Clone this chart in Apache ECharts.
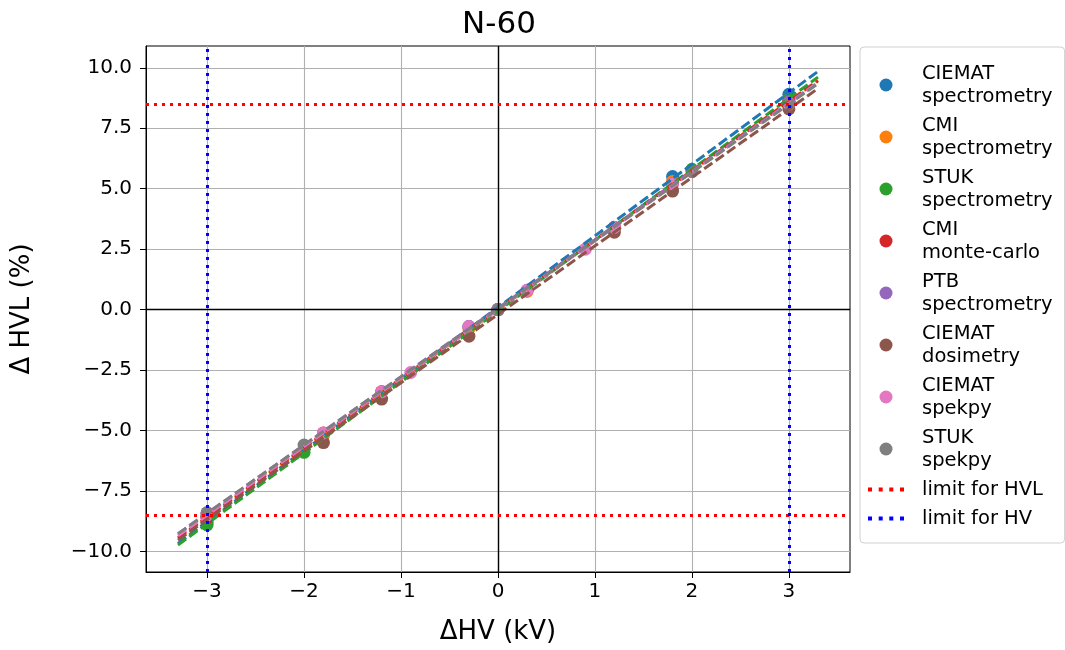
<!DOCTYPE html>
<html>
<head>
<meta charset="utf-8">
<title>N-60</title>
<script src="https://cdn.jsdelivr.net/npm/echarts@6/dist/echarts.min.js"></script>
<style>
  html, body { margin: 0; padding: 0; background: #fff; }
  #chart { width: 1065px; height: 650px; }
</style>
</head>
<body>
<div id="chart"></div>
<script>
// Change of half-value layer against change of tube voltage, beam quality N-60.
const seriesNames = [
  'CIEMAT\nspectrometry', 'CMI\nspectrometry', 'STUK\nspectrometry', 'CMI\nmonte-carlo',
  'PTB\nspectrometry', 'CIEMAT\ndosimetry', 'CIEMAT\nspekpy', 'STUK\nspekpy'
];
const seriesColors = ['#1f77b4', '#ff7f0e', '#2ca02c', '#d62728', '#9467bd', '#8c564b', '#e377c2', '#7f7f7f'];

// ΔHV (kV) and ΔHVL (%) per data set
const ciematSpectrometryX = [-3, -0.3, 0, 1.8, 3];
const ciematSpectrometryY = [-8.8, -0.7, 0, 5.5, 8.9];
const cmiSpectrometryX = [-3, -1.8, -1.2, -0.3, 0, 0.3, 1.2, 1.8, 3];
const cmiSpectrometryY = [-8.6, -5.2, -3.4, -0.8, 0, 0.75, 3.4, 5.3, 8.6];
const stukSpectrometryX = [-3, -2, 0, 2, 3];
const stukSpectrometryY = [-8.9, -5.9, 0, 5.8, 8.7];
const cmiMonteCarloX = [-3, -1.8, -1.2, 0, 1.2, 1.8, 3];
const cmiMonteCarloY = [-8.6, -5.1, -3.4, 0, 3.4, 5.2, 8.6];
const ptbSpectrometryX = [-3, -0.3, 0, 0.3, 3];
const ptbSpectrometryY = [-8.4, -0.7, 0, 0.8, 8.6];
const ciematDosimetryX = [-3, -1.8, -1.2, -0.3, 0, 1.2, 1.8, 3];
const ciematDosimetryY = [-8.5, -5.5, -3.7, -1.1, 0, 3.2, 4.9, 8.3];
const ciematSpekpyX = [-3, -1.8, -1.2, -0.9, -0.3, 0, 0.3, 0.9, 1.2, 1.8, 3];
const ciematSpekpyY = [-8.5, -5.1, -3.4, -2.6, -0.7, 0, 0.8, 2.5, 3.4, 5.2, 8.5];
const stukSpekpyX = [-3, -2, 0, 2, 3];
const stukSpekpyY = [-8.4, -5.6, 0, 5.7, 8.5];

const seriesX = [ciematSpectrometryX, cmiSpectrometryX, stukSpectrometryX, cmiMonteCarloX,
  ptbSpectrometryX, ciematDosimetryX, ciematSpekpyX, stukSpekpyX];
const seriesY = [ciematSpectrometryY, cmiSpectrometryY, stukSpectrometryY, cmiMonteCarloY,
  ptbSpectrometryY, ciematDosimetryY, ciematSpekpyY, stukSpekpyY];

// span of the linear fits, limits and axis ticks
const fitRange = [-3.3, 3.3];
const hvlLimits = [8.5, -8.5];
const hvLimits = [-3, 3];
const xTicks = [-3, -2, -1, 0, 1, 2, 3];
const yTicks = [-10, -7.5, -5, -2.5, 0, 2.5, 5, 7.5, 10];
const xExtent = [-3.63, 3.63];
const yExtent = [-10.85, 10.9];

const FONT = 'DejaVu Sans';
const minus = s => String(s).replace('-', '\u2212');
// four square dots, used as the legend key of the dotted limit lines
const DOTTED_ICON = 'path://M0,0h4v4h-4zM10.7,0h4v4h-4zM21.3,0h4v4h-4zM32,0h4v4h-4z';

// least-squares straight line through one data set
function linearFit(xs, ys) {
  const n = xs.length;
  const mx = xs.reduce((a, b) => a + b, 0) / n;
  const my = ys.reduce((a, b) => a + b, 0) / n;
  let sxy = 0, sxx = 0;
  for (let i = 0; i < n; i++) {
    sxy += (xs[i] - mx) * (ys[i] - my);
    sxx += (xs[i] - mx) * (xs[i] - mx);
  }
  const slope = sxy / sxx;
  return { slope, intercept: my - slope * mx };
}

const series = [];

// black lines through the origin
series.push({
  type: 'line', data: [], silent: true, z: 1,
  markLine: {
    silent: true, symbol: 'none', animation: false, label: { show: false },
    lineStyle: { color: '#000', type: 'solid', width: 1.4 },
    data: [{ xAxis: 0 }, { yAxis: 0 }]
  }
});

seriesNames.forEach((name, i) => {
  series.push({
    name, type: 'scatter', z: 3,
    symbol: 'circle', symbolSize: 13,
    itemStyle: { color: seriesColors[i], opacity: 1 },
    data: seriesX[i].map((x, k) => [x, seriesY[i][k]])
  });
});

seriesNames.forEach((name, i) => {
  const f = linearFit(seriesX[i], seriesY[i]);
  series.push({
    name: name + ' fit', type: 'line', z: 4, silent: true,
    showSymbol: false, symbol: 'none',
    lineStyle: { color: seriesColors[i], width: 3, type: [10, 4] },
    data: fitRange.map(x => [x, f.slope * x + f.intercept])
  });
});

series.push({
  name: 'limit for HVL', type: 'line', z: 5, data: [], symbol: 'none',
  itemStyle: { color: '#ff0000' },
  lineStyle: { color: '#ff0000', width: 3, type: [3, 5] },
  markLine: {
    silent: true, symbol: 'none', animation: false, label: { show: false },
    lineStyle: { color: '#ff0000', width: 3, type: [3, 5] },
    data: hvlLimits.map(v => ({ yAxis: v }))
  }
});
series.push({
  name: 'limit for HV', type: 'line', z: 5, data: [], symbol: 'none',
  itemStyle: { color: '#0000ff' },
  lineStyle: { color: '#0000ff', width: 3, type: [3, 5] },
  markLine: {
    silent: true, symbol: 'none', animation: false, label: { show: false },
    lineStyle: { color: '#0000ff', width: 3, type: [3, 5] },
    data: hvLimits.map(v => ({ xAxis: v }))
  }
});

const chart = echarts.init(document.getElementById('chart'), null, { renderer: 'canvas' });
chart.setOption({
  animation: false,
  backgroundColor: '#fff',
  textStyle: { fontFamily: FONT },
  title: {
    text: 'N-60', left: 494, top: 4, textAlign: 'center',
    textStyle: { fontFamily: FONT, fontSize: 31, fontWeight: 'normal', color: '#000' }
  },
  grid: {
    left: 146, right: 215, top: 46, bottom: 78,
    show: true, borderColor: '#000', borderWidth: 1, backgroundColor: 'transparent'
  },
  legend: {
    orient: 'vertical', left: 860, top: 47,
    padding: [15, 12, 13, 8],
    itemWidth: 36, itemHeight: 13, itemGap: 6,
    borderColor: '#d0d0d0', borderWidth: 1, borderRadius: 4,
    selectedMode: false,
    textStyle: { fontFamily: FONT, fontSize: 19.5, lineHeight: 23, color: '#000', padding: [0, 0, 0, 13] },
    data: seriesNames.map(n => ({ name: n, icon: 'circle' })).concat([
      { name: 'limit for HVL', icon: DOTTED_ICON, itemStyle: { color: '#ff0000' } },
      { name: 'limit for HV', icon: DOTTED_ICON, itemStyle: { color: '#0000ff' } }
    ])
  },
  xAxis: {
    type: 'value', min: xExtent[0], max: xExtent[1],
    name: '\u0394HV (kV)', nameLocation: 'middle', nameGap: 47,
    nameTextStyle: { fontFamily: FONT, fontSize: 26, color: '#000' },
    axisLine: { show: true, onZero: false, lineStyle: { color: '#000', width: 1 } },
    axisTick: { show: true, inside: false, length: 6, customValues: xTicks, lineStyle: { color: '#000' } },
    axisLabel: { customValues: xTicks, margin: 10, fontFamily: FONT, fontSize: 20, color: '#000', formatter: v => minus(v) },
    splitLine: { show: true, lineStyle: { color: '#b0b0b0', width: 1.1 } }
  },
  yAxis: {
    type: 'value', min: yExtent[0], max: yExtent[1],
    name: '\u0394 HVL (%)', nameLocation: 'middle', nameGap: 111, nameRotate: 90,
    nameTextStyle: { fontFamily: FONT, fontSize: 26, color: '#000' },
    axisLine: { show: true, onZero: false, lineStyle: { color: '#000', width: 1 } },
    axisTick: { show: true, inside: false, length: 6, customValues: yTicks, lineStyle: { color: '#000' } },
    axisLabel: { customValues: yTicks, margin: 14, fontFamily: FONT, fontSize: 20, color: '#000', formatter: v => minus(v.toFixed(1)) },
    splitLine: { show: true, lineStyle: { color: '#b0b0b0', width: 1.1 } }
  },
  series
});
</script>
</body>
</html>
